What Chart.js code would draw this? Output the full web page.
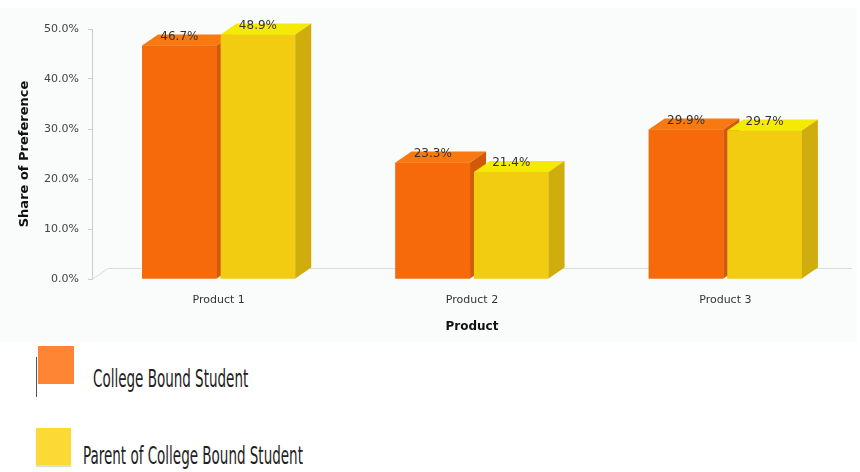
<!DOCTYPE html>
<html>
<head>
<meta charset="utf-8">
<script src="https://cdn.jsdelivr.net/npm/chart.js@4.4.0/dist/chart.umd.min.js"></script>
<style>
  html, body { margin: 0; padding: 0; background: #fff; }
  #wrap { position: relative; width: 860px; height: 472px; overflow: hidden; }
  #chart-box { position: absolute; left: 0; top: 0; width: 860px; height: 342px; }
  .legend-sq { position: absolute; }
  .legend-txt {
    position: absolute; white-space: nowrap; color: #222;
    font-family: "Liberation Sans Narrow", "DejaVu Sans Condensed", sans-serif;
    font-size: 24px; transform-origin: 0 50%;
  }
</style>
</head>
<body>
<div id="wrap">
  <div id="chart-box"><canvas id="share-chart"></canvas></div>

  <div class="legend-sq" style="left:36px;top:357px;width:1px;height:40px;background:#555"></div>
  <div class="legend-sq" style="left:38px;top:346px;width:36px;height:38px;background:#fd8533"></div>
  <div class="legend-txt" id="lg1" style="left:93px;top:365px">College Bound Student</div>

  <div class="legend-sq" style="left:36px;top:428px;width:35px;height:37px;background:#fcd935;box-shadow:0 2px 1px #ddd"></div>
  <div class="legend-txt" id="lg2" style="left:83px;top:442px">Parent of College Bound Student</div>
</div>

<script>
const categories = ['Product 1', 'Product 2', 'Product 3']
const collegeStudent = [46.7, 23.3, 29.9]
const parentOfStudent = [48.9, 21.4, 29.7]
const seriesNames = ['College Bound Student', 'Parent of College Bound Student']
const yTicks = [0, 10, 20, 30, 40, 50]

// front / top / side shades for the fake 3d look
const shades = [
    { front: '#f66a0b', top: '#f7790f', side: '#d15a09' },
    { front: '#f2cc10', top: '#f5ea04', side: '#cfad0d' }
]
const DX = 16, DY = 11

const bars3d = {
    id: 'bars3d',
    beforeDraw: (chart) => {
        const { ctx } = chart
        ctx.save()
        ctx.fillStyle = '#fafbfb'
        ctx.fillRect(0, 8, 857, 334)
        ctx.restore()
    },
    beforeDatasetsDraw: (chart) => {
        const { ctx, chartArea, scales: { y } } = chart
        const y0 = y.getPixelForValue(0)
        ctx.save()
        ctx.strokeStyle = '#dcdcdc'
        ctx.lineWidth = 1
        ctx.beginPath()
        ctx.moveTo(chartArea.left, y0 + 0.5)
        ctx.lineTo(chartArea.left + DX, y0 - DY + 0.5)
        ctx.lineTo(chartArea.right, y0 - DY + 0.5)
        ctx.stroke()
        ctx.restore()
    },
    afterDatasetsDraw: (chart) => {
        const { ctx } = chart
        const metas = chart.data.datasets.map((d, i) => chart.getDatasetMeta(i))
        ctx.save()
        categories.forEach((c, ci) => {
            metas.forEach((meta, di) => {
                const bar = meta.data[ci]
                const { x, y, base, width } = bar.getProps(['x', 'y', 'base', 'width'], true)
                const l = x - width / 2, r = x + width / 2
                const s = shades[di]
                ctx.fillStyle = s.front
                ctx.fillRect(l, y, width, base - y)
                ctx.fillStyle = s.top
                ctx.beginPath()
                ctx.moveTo(l, y); ctx.lineTo(l + DX, y - DY); ctx.lineTo(r + DX, y - DY); ctx.lineTo(r, y)
                ctx.closePath(); ctx.fill()
                ctx.fillStyle = s.side
                ctx.beginPath()
                ctx.moveTo(r, y); ctx.lineTo(r + DX, y - DY); ctx.lineTo(r + DX, base - DY); ctx.lineTo(r, base)
                ctx.closePath(); ctx.fill()
            })
        })
        // value labels
        ctx.font = '12px "DejaVu Sans", Verdana, sans-serif'
        ctx.fillStyle = '#333'
        ctx.textAlign = 'center'
        ctx.textBaseline = 'middle'
        metas.forEach((meta, di) => {
            meta.data.forEach((bar, i) => {
                const v = chart.data.datasets[di].data[i]
                ctx.fillText(v.toFixed(1) + '%', bar.x, bar.y - 9)
            })
        })
        ctx.restore()
    }
}

new Chart(document.getElementById('share-chart'), {
    type: 'bar',
    data: {
        labels: categories,
        datasets: [
            { label: seriesNames[0], data: collegeStudent, backgroundColor: shades[0].front },
            { label: seriesNames[1], data: parentOfStudent, backgroundColor: shades[1].front }
        ]
    },
    options: {
        responsive: true,
        maintainAspectRatio: false,
        animation: false,
        categoryPercentage: 0.62,
        barPercentage: 0.95,
        layout: { padding: { top: 29, right: 8, left: 0, bottom: 0 } },
        plugins: { legend: { display: false }, tooltip: { enabled: false } },
        scales: {
            x: {
                grid: { display: false, drawTicks: false },
                border: { display: false },
                ticks: { padding: 15, color: '#333', font: { family: '"DejaVu Sans", Verdana, sans-serif', size: 11 } },
                title: { display: true, text: 'Product', color: '#111', padding: { top: 0, bottom: 8 },
                         font: { family: '"DejaVu Sans", Verdana, sans-serif', size: 12, weight: 'bold' } },
                afterFit: (scale) => { scale.height = 63 }
            },
            y: {
                min: 0, max: 50,
                afterBuildTicks: (scale) => { scale.ticks = yTicks.map(v => ({ value: v })) },
                grid: { drawOnChartArea: false, tickLength: 4, color: '#cccccc' },
                border: { display: true, color: '#cccccc' },
                ticks: { padding: 9, color: '#444', callback: v => v.toFixed(1) + '%',
                         font: { family: '"DejaVu Sans", Verdana, sans-serif', size: 11 } },
                title: { display: true, text: 'Share of Preference', color: '#111', padding: { top: 17, bottom: 0 },
                         font: { family: '"DejaVu Sans", Verdana, sans-serif', size: 13, weight: 'bold' } },
                afterFit: (scale) => { scale.width = 92 }
            }
        }
    },
    plugins: [bars3d]
})

// squeeze the legend text to the narrow look of the original
const fitText = (id, w) => {
    const el = document.getElementById(id)
    el.style.transform = 'scaleX(' + (w / el.offsetWidth) + ')'
}
fitText('lg1', 155)
fitText('lg2', 220)
</script>
</body>
</html>
